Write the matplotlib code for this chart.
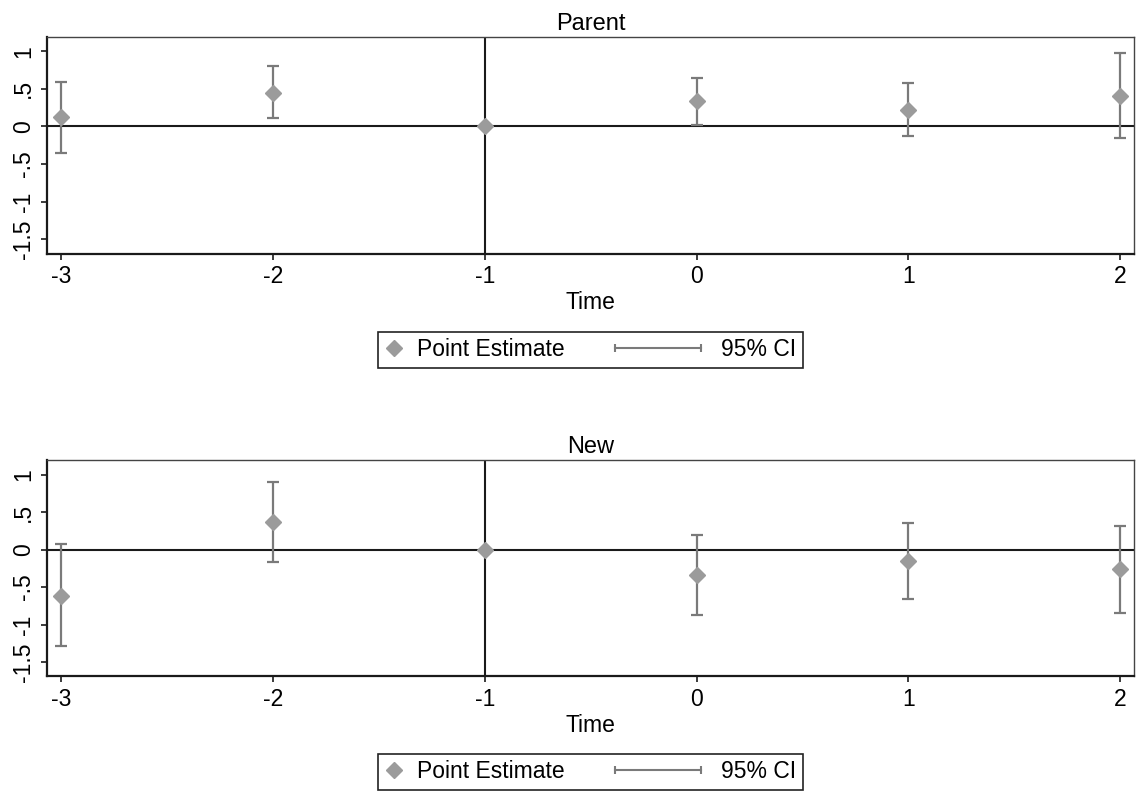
import numpy as np
import matplotlib
matplotlib.use("Agg")
import matplotlib.pyplot as plt
from matplotlib.lines import Line2D
from matplotlib.legend_handler import HandlerBase, HandlerLine2D

plt.rcParams['font.family'] = ['Liberation Sans', 'DejaVu Sans']

time = [-3, -2, -1, 0, 1, 2]
parent_est = [0.12, 0.45, 0.0, 0.34, 0.22, 0.41]
parent_lo = [-0.35, 0.11, np.nan, 0.02, -0.13, -0.16]
parent_hi = [0.59, 0.80, np.nan, 0.65, 0.575, 0.98]
new_est = [-0.615, 0.365, 0.0, -0.335, -0.15, -0.26]
new_lo = [-1.29, -0.17, np.nan, -0.87, -0.66, -0.84]
new_hi = [0.07, 0.90, np.nan, 0.20, 0.36, 0.32]
titles = ["Parent", "New"]
ytick_vals = [1, 0.5, 0, -0.5, -1, -1.5]
ytick_labels = ["1", ".5", "0", "-.5", "-1", "-1.5"]
xtick_labels = ["-3", "-2", "-1", "0", "1", "2"]

MARKER_C = '#9b9b9b'
BAR_C = '#7a7a7a'
LINE_C = '#1a1a1a'
FS = 16.5
FS_T = 17

fig = plt.figure(figsize=(11.4, 7.94), dpi=100)
ax1 = fig.add_axes([47/1140, 1 - 253.5/794, 1087/1140, 216.5/794])
ax2 = fig.add_axes([47/1140, 1 - 676.3/794, 1087/1140, 216/794])


class HandlerCI(HandlerBase):
    def create_artists(self, legend, orig_handle, xdescent, ydescent,
                       width, height, fontsize, trans):
        y = height / 2 - ydescent
        x1 = width - xdescent - 4
        x0 = x1 - 62.0
        ln = Line2D([x0, x1], [y, y], color=BAR_C, lw=1.5,
                    marker='|', ms=6, mew=1.5, transform=trans)
        return [ln]


def panel(ax, est, lo, hi, title):
    t = np.array(time, dtype=float)
    e = np.array(est, dtype=float)
    l = np.array(lo, dtype=float)
    h = np.array(hi, dtype=float)
    ax.axhline(0, color=LINE_C, lw=1.5, zorder=1)
    ax.axvline(-1, color=LINE_C, lw=1.5, zorder=1)
    m = ~np.isnan(l)
    ax.errorbar(t[m], e[m], yerr=[e[m] - l[m], h[m] - e[m]], fmt='none',
                ecolor=BAR_C, elinewidth=1.6, capsize=4.5, capthick=1.6, zorder=2)
    ax.plot(t, e, 'D', color=MARKER_C, ms=8, zorder=3)
    ax.set_xlim(-3.068, 2.066)
    ax.set_ylim(-1.69, 1.19)
    ax.set_xticks(time, xtick_labels, fontsize=FS)
    ax.set_yticks(ytick_vals, ytick_labels, fontsize=FS, rotation=90, va='center')
    ax.tick_params(axis='both', direction='out', length=4.5, width=1.2, color=LINE_C)
    ax.tick_params(axis='y', pad=4)
    ax.tick_params(axis='x', pad=4)
    for s in ['left', 'bottom']:
        ax.spines[s].set_linewidth(1.6)
        ax.spines[s].set_color(LINE_C)
    for s in ['top', 'right']:
        ax.spines[s].set_linewidth(1.0)
        ax.spines[s].set_color('#444444')
    ax.set_title(title, fontsize=FS_T, pad=5)
    ax.set_xlabel("Time", fontsize=FS, labelpad=2)


panel(ax1, parent_est, parent_lo, parent_hi, titles[0])
panel(ax2, new_est, new_lo, new_hi, titles[1])

for yc in [1 - 350/794, 1 - 772/794]:
    h_pt = Line2D([], [], marker='D', color=MARKER_C, ls='none', ms=8)
    h_ci = Line2D([], [], color=BAR_C)
    leg = fig.legend([h_pt, h_ci], ["Point Estimate", "95% CI"],
                     loc='center', bbox_to_anchor=(590.5/1140, yc), ncol=2,
                     fontsize=FS, frameon=True, fancybox=False, framealpha=1,
                     edgecolor='#222222', handlelength=0.8, handletextpad=0.6,
                     columnspacing=5.4, borderpad=0.3, borderaxespad=0,
                     handler_map={h_pt: HandlerLine2D(numpoints=1),
                                  h_ci: HandlerCI()})
    leg.get_frame().set_linewidth(1.2)

fig.savefig("out.png", dpi=100)
